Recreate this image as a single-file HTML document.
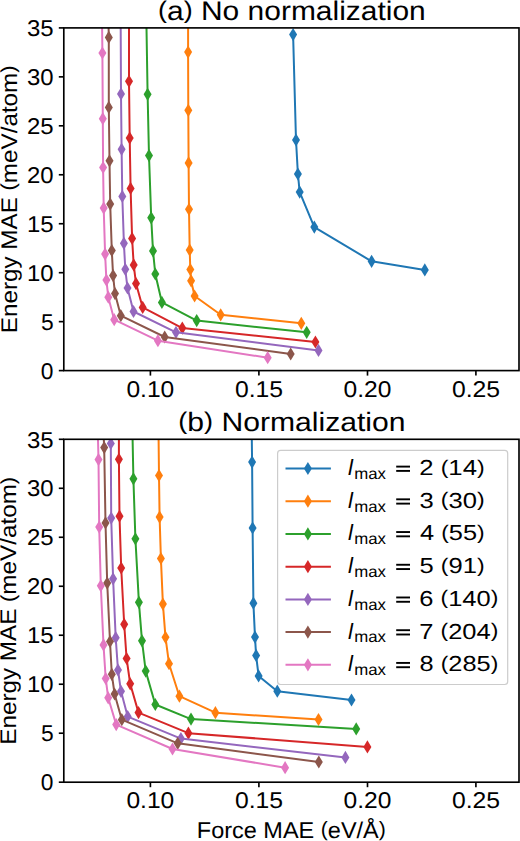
<!DOCTYPE html>
<html><head><meta charset="utf-8"><style>
html,body{margin:0;padding:0;background:#fff;width:520px;height:841px;overflow:hidden}
svg{display:block}
text{font-family:"Liberation Sans", sans-serif;fill:#000;text-rendering:geometricPrecision}
</style></head><body>
<svg width="520" height="841" viewBox="0 0 520 841">
<rect width="520" height="841" fill="#fff"/>
<defs><clipPath id="ca"><rect x="63.8" y="27.9" width="455.2" height="342.70000000000005"/></clipPath><clipPath id="cb"><rect x="63.8" y="439.3" width="455.2" height="342.90000000000003"/></clipPath></defs>
<g clip-path="url(#ca)">
<path d="M293.10 34.60L296.00 140.00L297.90 174.00L299.70 192.10L314.30 227.10L371.60 261.30L424.80 269.90" fill="none" stroke="#1f77b4" stroke-width="2.0" stroke-linejoin="round" stroke-linecap="butt"/>
<path d="M293.10 28.00L297.10 34.60L293.10 41.20L289.10 34.60Z" fill="#1f77b4"/>
<path d="M296.00 133.40L300.00 140.00L296.00 146.60L292.00 140.00Z" fill="#1f77b4"/>
<path d="M297.90 167.40L301.90 174.00L297.90 180.60L293.90 174.00Z" fill="#1f77b4"/>
<path d="M299.70 185.50L303.70 192.10L299.70 198.70L295.70 192.10Z" fill="#1f77b4"/>
<path d="M314.30 220.50L318.30 227.10L314.30 233.70L310.30 227.10Z" fill="#1f77b4"/>
<path d="M371.60 254.70L375.60 261.30L371.60 267.90L367.60 261.30Z" fill="#1f77b4"/>
<path d="M424.80 263.30L428.80 269.90L424.80 276.50L420.80 269.90Z" fill="#1f77b4"/>
<path d="M188.10 -2.10L188.10 52.10L188.30 110.30L188.60 162.90L189.00 209.30L189.70 250.00L190.30 269.50L191.10 280.80L194.60 296.00L220.70 314.80L301.30 323.30" fill="none" stroke="#ff7f0e" stroke-width="2.0" stroke-linejoin="round" stroke-linecap="butt"/>
<path d="M188.10 45.50L192.10 52.10L188.10 58.70L184.10 52.10Z" fill="#ff7f0e"/>
<path d="M188.30 103.70L192.30 110.30L188.30 116.90L184.30 110.30Z" fill="#ff7f0e"/>
<path d="M188.60 156.30L192.60 162.90L188.60 169.50L184.60 162.90Z" fill="#ff7f0e"/>
<path d="M189.00 202.70L193.00 209.30L189.00 215.90L185.00 209.30Z" fill="#ff7f0e"/>
<path d="M189.70 243.40L193.70 250.00L189.70 256.60L185.70 250.00Z" fill="#ff7f0e"/>
<path d="M190.30 262.90L194.30 269.50L190.30 276.10L186.30 269.50Z" fill="#ff7f0e"/>
<path d="M191.10 274.20L195.10 280.80L191.10 287.40L187.10 280.80Z" fill="#ff7f0e"/>
<path d="M194.60 289.40L198.60 296.00L194.60 302.60L190.60 296.00Z" fill="#ff7f0e"/>
<path d="M220.70 308.20L224.70 314.80L220.70 321.40L216.70 314.80Z" fill="#ff7f0e"/>
<path d="M301.30 316.70L305.30 323.30L301.30 329.90L297.30 323.30Z" fill="#ff7f0e"/>
<path d="M146.00 -2.10L147.60 94.30L149.00 155.60L151.20 217.80L153.00 250.90L155.30 274.00L161.90 302.40L196.70 320.60L306.70 332.30" fill="none" stroke="#2ca02c" stroke-width="2.0" stroke-linejoin="round" stroke-linecap="butt"/>
<path d="M147.60 87.70L151.60 94.30L147.60 100.90L143.60 94.30Z" fill="#2ca02c"/>
<path d="M149.00 149.00L153.00 155.60L149.00 162.20L145.00 155.60Z" fill="#2ca02c"/>
<path d="M151.20 211.20L155.20 217.80L151.20 224.40L147.20 217.80Z" fill="#2ca02c"/>
<path d="M153.00 244.30L157.00 250.90L153.00 257.50L149.00 250.90Z" fill="#2ca02c"/>
<path d="M155.30 267.40L159.30 274.00L155.30 280.60L151.30 274.00Z" fill="#2ca02c"/>
<path d="M161.90 295.80L165.90 302.40L161.90 309.00L157.90 302.40Z" fill="#2ca02c"/>
<path d="M196.70 314.00L200.70 320.60L196.70 327.20L192.70 320.60Z" fill="#2ca02c"/>
<path d="M306.70 325.70L310.70 332.30L306.70 338.90L302.70 332.30Z" fill="#2ca02c"/>
<path d="M129.00 -2.10L129.00 81.30L129.70 138.10L130.60 188.40L132.10 238.40L133.70 264.90L136.00 283.60L142.70 307.40L182.30 328.10L315.40 342.00" fill="none" stroke="#d62728" stroke-width="2.0" stroke-linejoin="round" stroke-linecap="butt"/>
<path d="M129.00 74.70L133.00 81.30L129.00 87.90L125.00 81.30Z" fill="#d62728"/>
<path d="M129.70 131.50L133.70 138.10L129.70 144.70L125.70 138.10Z" fill="#d62728"/>
<path d="M130.60 181.80L134.60 188.40L130.60 195.00L126.60 188.40Z" fill="#d62728"/>
<path d="M132.10 231.80L136.10 238.40L132.10 245.00L128.10 238.40Z" fill="#d62728"/>
<path d="M133.70 258.30L137.70 264.90L133.70 271.50L129.70 264.90Z" fill="#d62728"/>
<path d="M136.00 277.00L140.00 283.60L136.00 290.20L132.00 283.60Z" fill="#d62728"/>
<path d="M142.70 300.80L146.70 307.40L142.70 314.00L138.70 307.40Z" fill="#d62728"/>
<path d="M182.30 321.50L186.30 328.10L182.30 334.70L178.30 328.10Z" fill="#d62728"/>
<path d="M315.40 335.40L319.40 342.00L315.40 348.60L311.40 342.00Z" fill="#d62728"/>
<path d="M120.56 -2.10L121.00 93.90L121.60 149.30L122.30 196.40L123.90 243.30L125.30 269.30L127.50 288.00L133.50 311.50L176.00 332.30L318.50 350.40" fill="none" stroke="#9467bd" stroke-width="2.0" stroke-linejoin="round" stroke-linecap="butt"/>
<path d="M121.00 87.30L125.00 93.90L121.00 100.50L117.00 93.90Z" fill="#9467bd"/>
<path d="M121.60 142.70L125.60 149.30L121.60 155.90L117.60 149.30Z" fill="#9467bd"/>
<path d="M122.30 189.80L126.30 196.40L122.30 203.00L118.30 196.40Z" fill="#9467bd"/>
<path d="M123.90 236.70L127.90 243.30L123.90 249.90L119.90 243.30Z" fill="#9467bd"/>
<path d="M125.30 262.70L129.30 269.30L125.30 275.90L121.30 269.30Z" fill="#9467bd"/>
<path d="M127.50 281.40L131.50 288.00L127.50 294.60L123.50 288.00Z" fill="#9467bd"/>
<path d="M133.50 304.90L137.50 311.50L133.50 318.10L129.50 311.50Z" fill="#9467bd"/>
<path d="M176.00 325.70L180.00 332.30L176.00 338.90L172.00 332.30Z" fill="#9467bd"/>
<path d="M318.50 343.80L322.50 350.40L318.50 357.00L314.50 350.40Z" fill="#9467bd"/>
<path d="M107.97 -2.10L108.80 37.40L108.80 107.40L109.50 160.80L110.20 204.10L111.80 250.50L113.10 275.60L115.00 293.60L120.80 315.70L164.70 337.00L290.70 354.00" fill="none" stroke="#8c564b" stroke-width="2.0" stroke-linejoin="round" stroke-linecap="butt"/>
<path d="M108.80 30.80L112.80 37.40L108.80 44.00L104.80 37.40Z" fill="#8c564b"/>
<path d="M108.80 100.80L112.80 107.40L108.80 114.00L104.80 107.40Z" fill="#8c564b"/>
<path d="M109.50 154.20L113.50 160.80L109.50 167.40L105.50 160.80Z" fill="#8c564b"/>
<path d="M110.20 197.50L114.20 204.10L110.20 210.70L106.20 204.10Z" fill="#8c564b"/>
<path d="M111.80 243.90L115.80 250.50L111.80 257.10L107.80 250.50Z" fill="#8c564b"/>
<path d="M113.10 269.00L117.10 275.60L113.10 282.20L109.10 275.60Z" fill="#8c564b"/>
<path d="M115.00 287.00L119.00 293.60L115.00 300.20L111.00 293.60Z" fill="#8c564b"/>
<path d="M120.80 309.10L124.80 315.70L120.80 322.30L116.80 315.70Z" fill="#8c564b"/>
<path d="M164.70 330.40L168.70 337.00L164.70 343.60L160.70 337.00Z" fill="#8c564b"/>
<path d="M290.70 347.40L294.70 354.00L290.70 360.60L286.70 354.00Z" fill="#8c564b"/>
<path d="M101.74 -2.10L102.40 53.00L102.80 118.70L103.10 167.50L103.70 208.10L105.10 254.10L106.40 280.10L108.30 297.20L114.20 319.70L157.90 340.70L267.70 357.70" fill="none" stroke="#e377c2" stroke-width="2.0" stroke-linejoin="round" stroke-linecap="butt"/>
<path d="M102.40 46.40L106.40 53.00L102.40 59.60L98.40 53.00Z" fill="#e377c2"/>
<path d="M102.80 112.10L106.80 118.70L102.80 125.30L98.80 118.70Z" fill="#e377c2"/>
<path d="M103.10 160.90L107.10 167.50L103.10 174.10L99.10 167.50Z" fill="#e377c2"/>
<path d="M103.70 201.50L107.70 208.10L103.70 214.70L99.70 208.10Z" fill="#e377c2"/>
<path d="M105.10 247.50L109.10 254.10L105.10 260.70L101.10 254.10Z" fill="#e377c2"/>
<path d="M106.40 273.50L110.40 280.10L106.40 286.70L102.40 280.10Z" fill="#e377c2"/>
<path d="M108.30 290.60L112.30 297.20L108.30 303.80L104.30 297.20Z" fill="#e377c2"/>
<path d="M114.20 313.10L118.20 319.70L114.20 326.30L110.20 319.70Z" fill="#e377c2"/>
<path d="M157.90 334.10L161.90 340.70L157.90 347.30L153.90 340.70Z" fill="#e377c2"/>
<path d="M267.70 351.10L271.70 357.70L267.70 364.30L263.70 357.70Z" fill="#e377c2"/>
</g>
<g clip-path="url(#cb)">
<path d="M251.41 409.30L252.10 462.10L252.60 528.00L253.40 603.20L255.00 637.10L256.10 655.40L258.60 675.90L277.30 691.20L351.50 700.00" fill="none" stroke="#1f77b4" stroke-width="2.0" stroke-linejoin="round" stroke-linecap="butt"/>
<path d="M252.10 455.50L256.10 462.10L252.10 468.70L248.10 462.10Z" fill="#1f77b4"/>
<path d="M252.60 521.40L256.60 528.00L252.60 534.60L248.60 528.00Z" fill="#1f77b4"/>
<path d="M253.40 596.60L257.40 603.20L253.40 609.80L249.40 603.20Z" fill="#1f77b4"/>
<path d="M255.00 630.50L259.00 637.10L255.00 643.70L251.00 637.10Z" fill="#1f77b4"/>
<path d="M256.10 648.80L260.10 655.40L256.10 662.00L252.10 655.40Z" fill="#1f77b4"/>
<path d="M258.60 669.30L262.60 675.90L258.60 682.50L254.60 675.90Z" fill="#1f77b4"/>
<path d="M277.30 684.60L281.30 691.20L277.30 697.80L273.30 691.20Z" fill="#1f77b4"/>
<path d="M351.50 693.40L355.50 700.00L351.50 706.60L347.50 700.00Z" fill="#1f77b4"/>
<path d="M158.27 409.30L159.00 475.50L159.60 517.10L160.90 558.50L162.90 604.10L165.50 637.30L169.00 663.70L179.40 696.20L215.40 712.70L318.50 719.50" fill="none" stroke="#ff7f0e" stroke-width="2.0" stroke-linejoin="round" stroke-linecap="butt"/>
<path d="M159.00 468.90L163.00 475.50L159.00 482.10L155.00 475.50Z" fill="#ff7f0e"/>
<path d="M159.60 510.50L163.60 517.10L159.60 523.70L155.60 517.10Z" fill="#ff7f0e"/>
<path d="M160.90 551.90L164.90 558.50L160.90 565.10L156.90 558.50Z" fill="#ff7f0e"/>
<path d="M162.90 597.50L166.90 604.10L162.90 610.70L158.90 604.10Z" fill="#ff7f0e"/>
<path d="M165.50 630.70L169.50 637.30L165.50 643.90L161.50 637.30Z" fill="#ff7f0e"/>
<path d="M169.00 657.10L173.00 663.70L169.00 670.30L165.00 663.70Z" fill="#ff7f0e"/>
<path d="M179.40 689.60L183.40 696.20L179.40 702.80L175.40 696.20Z" fill="#ff7f0e"/>
<path d="M215.40 706.10L219.40 712.70L215.40 719.30L211.40 712.70Z" fill="#ff7f0e"/>
<path d="M318.50 712.90L322.50 719.50L318.50 726.10L314.50 719.50Z" fill="#ff7f0e"/>
<path d="M131.99 409.30L133.40 478.80L135.40 538.80L138.90 602.30L142.00 640.80L145.70 671.10L155.30 704.50L191.00 719.10L356.20 728.90" fill="none" stroke="#2ca02c" stroke-width="2.0" stroke-linejoin="round" stroke-linecap="butt"/>
<path d="M133.40 472.20L137.40 478.80L133.40 485.40L129.40 478.80Z" fill="#2ca02c"/>
<path d="M135.40 532.20L139.40 538.80L135.40 545.40L131.40 538.80Z" fill="#2ca02c"/>
<path d="M138.90 595.70L142.90 602.30L138.90 608.90L134.90 602.30Z" fill="#2ca02c"/>
<path d="M142.00 634.20L146.00 640.80L142.00 647.40L138.00 640.80Z" fill="#2ca02c"/>
<path d="M145.70 664.50L149.70 671.10L145.70 677.70L141.70 671.10Z" fill="#2ca02c"/>
<path d="M155.30 697.90L159.30 704.50L155.30 711.10L151.30 704.50Z" fill="#2ca02c"/>
<path d="M191.00 712.50L195.00 719.10L191.00 725.70L187.00 719.10Z" fill="#2ca02c"/>
<path d="M356.20 722.30L360.20 728.90L356.20 735.50L352.20 728.90Z" fill="#2ca02c"/>
<path d="M118.90 409.30L118.90 459.30L119.50 516.20L121.20 568.00L124.20 624.30L126.60 658.50L130.20 683.80L138.50 712.60L188.40 733.20L367.40 746.90" fill="none" stroke="#d62728" stroke-width="2.0" stroke-linejoin="round" stroke-linecap="butt"/>
<path d="M118.90 452.70L122.90 459.30L118.90 465.90L114.90 459.30Z" fill="#d62728"/>
<path d="M119.50 509.60L123.50 516.20L119.50 522.80L115.50 516.20Z" fill="#d62728"/>
<path d="M121.20 561.40L125.20 568.00L121.20 574.60L117.20 568.00Z" fill="#d62728"/>
<path d="M124.20 617.70L128.20 624.30L124.20 630.90L120.20 624.30Z" fill="#d62728"/>
<path d="M126.60 651.90L130.60 658.50L126.60 665.10L122.60 658.50Z" fill="#d62728"/>
<path d="M130.20 677.20L134.20 683.80L130.20 690.40L126.20 683.80Z" fill="#d62728"/>
<path d="M138.50 706.00L142.50 712.60L138.50 719.20L134.50 712.60Z" fill="#d62728"/>
<path d="M188.40 726.60L192.40 733.20L188.40 739.80L184.40 733.20Z" fill="#d62728"/>
<path d="M367.40 740.30L371.40 746.90L367.40 753.50L363.40 746.90Z" fill="#d62728"/>
<path d="M106.73 409.30L110.80 443.50L111.20 518.10L113.10 578.80L115.70 637.70L118.00 670.00L121.00 691.30L127.70 716.60L180.90 738.60L345.40 757.40" fill="none" stroke="#9467bd" stroke-width="2.0" stroke-linejoin="round" stroke-linecap="butt"/>
<path d="M110.80 436.90L114.80 443.50L110.80 450.10L106.80 443.50Z" fill="#9467bd"/>
<path d="M111.20 511.50L115.20 518.10L111.20 524.70L107.20 518.10Z" fill="#9467bd"/>
<path d="M113.10 572.20L117.10 578.80L113.10 585.40L109.10 578.80Z" fill="#9467bd"/>
<path d="M115.70 631.10L119.70 637.70L115.70 644.30L111.70 637.70Z" fill="#9467bd"/>
<path d="M118.00 663.40L122.00 670.00L118.00 676.60L114.00 670.00Z" fill="#9467bd"/>
<path d="M121.00 684.70L125.00 691.30L121.00 697.90L117.00 691.30Z" fill="#9467bd"/>
<path d="M127.70 710.00L131.70 716.60L127.70 723.20L123.70 716.60Z" fill="#9467bd"/>
<path d="M180.90 732.00L184.90 738.60L180.90 745.20L176.90 738.60Z" fill="#9467bd"/>
<path d="M345.40 750.80L349.40 757.40L345.40 764.00L341.40 757.40Z" fill="#9467bd"/>
<path d="M102.35 409.30L104.20 447.60L105.50 522.90L107.20 583.10L110.00 641.50L111.80 674.30L114.60 694.00L121.80 719.70L177.70 743.30L318.80 762.00" fill="none" stroke="#8c564b" stroke-width="2.0" stroke-linejoin="round" stroke-linecap="butt"/>
<path d="M104.20 441.00L108.20 447.60L104.20 454.20L100.20 447.60Z" fill="#8c564b"/>
<path d="M105.50 516.30L109.50 522.90L105.50 529.50L101.50 522.90Z" fill="#8c564b"/>
<path d="M107.20 576.50L111.20 583.10L107.20 589.70L103.20 583.10Z" fill="#8c564b"/>
<path d="M110.00 634.90L114.00 641.50L110.00 648.10L106.00 641.50Z" fill="#8c564b"/>
<path d="M111.80 667.70L115.80 674.30L111.80 680.90L107.80 674.30Z" fill="#8c564b"/>
<path d="M114.60 687.40L118.60 694.00L114.60 700.60L110.60 694.00Z" fill="#8c564b"/>
<path d="M121.80 713.10L125.80 719.70L121.80 726.30L117.80 719.70Z" fill="#8c564b"/>
<path d="M177.70 736.70L181.70 743.30L177.70 749.90L173.70 743.30Z" fill="#8c564b"/>
<path d="M318.80 755.40L322.80 762.00L318.80 768.60L314.80 762.00Z" fill="#8c564b"/>
<path d="M97.26 409.30L98.50 459.60L99.20 527.10L100.80 585.80L103.50 644.90L105.70 678.50L108.20 697.80L116.20 724.60L172.50 749.00L285.10 767.70" fill="none" stroke="#e377c2" stroke-width="2.0" stroke-linejoin="round" stroke-linecap="butt"/>
<path d="M98.50 453.00L102.50 459.60L98.50 466.20L94.50 459.60Z" fill="#e377c2"/>
<path d="M99.20 520.50L103.20 527.10L99.20 533.70L95.20 527.10Z" fill="#e377c2"/>
<path d="M100.80 579.20L104.80 585.80L100.80 592.40L96.80 585.80Z" fill="#e377c2"/>
<path d="M103.50 638.30L107.50 644.90L103.50 651.50L99.50 644.90Z" fill="#e377c2"/>
<path d="M105.70 671.90L109.70 678.50L105.70 685.10L101.70 678.50Z" fill="#e377c2"/>
<path d="M108.20 691.20L112.20 697.80L108.20 704.40L104.20 697.80Z" fill="#e377c2"/>
<path d="M116.20 718.00L120.20 724.60L116.20 731.20L112.20 724.60Z" fill="#e377c2"/>
<path d="M172.50 742.40L176.50 749.00L172.50 755.60L168.50 749.00Z" fill="#e377c2"/>
<path d="M285.10 761.10L289.10 767.70L285.10 774.30L281.10 767.70Z" fill="#e377c2"/>
</g>
<rect x="63.80" y="27.90" width="455.20" height="342.70" fill="none" stroke="#000" stroke-width="1.65" stroke-linejoin="miter"/>
<line x1="58.80" y1="370.60" x2="63.80" y2="370.60" stroke="#000" stroke-width="1.65"/>
<text transform="translate(40.74,378.80) scale(1.0,1)" font-size="22.8">0</text>
<line x1="58.80" y1="321.64" x2="63.80" y2="321.64" stroke="#000" stroke-width="1.65"/>
<text transform="translate(40.97,329.84) scale(1.0,1)" font-size="22.8">5</text>
<line x1="58.80" y1="272.69" x2="63.80" y2="272.69" stroke="#000" stroke-width="1.65"/>
<text transform="translate(26.98,280.89) scale(1.05,1)" font-size="22.8">10</text>
<line x1="58.80" y1="223.73" x2="63.80" y2="223.73" stroke="#000" stroke-width="1.65"/>
<text transform="translate(26.98,231.93) scale(1.05,1)" font-size="22.8">15</text>
<line x1="58.80" y1="174.77" x2="63.80" y2="174.77" stroke="#000" stroke-width="1.65"/>
<text transform="translate(26.98,182.97) scale(1.05,1)" font-size="22.8">20</text>
<line x1="58.80" y1="125.81" x2="63.80" y2="125.81" stroke="#000" stroke-width="1.65"/>
<text transform="translate(26.98,134.01) scale(1.05,1)" font-size="22.8">25</text>
<line x1="58.80" y1="76.86" x2="63.80" y2="76.86" stroke="#000" stroke-width="1.65"/>
<text transform="translate(26.98,85.06) scale(1.05,1)" font-size="22.8">30</text>
<line x1="58.80" y1="27.90" x2="63.80" y2="27.90" stroke="#000" stroke-width="1.65"/>
<text transform="translate(26.98,36.10) scale(1.05,1)" font-size="22.8">35</text>
<line x1="150.40" y1="370.60" x2="150.40" y2="375.60" stroke="#000" stroke-width="1.65"/>
<text transform="translate(126.42,396.60) scale(1.0789,1)" font-size="22.8">0.10</text>
<line x1="258.90" y1="370.60" x2="258.90" y2="375.60" stroke="#000" stroke-width="1.65"/>
<text transform="translate(234.91,396.60) scale(1.0847,1)" font-size="22.8">0.15</text>
<line x1="367.50" y1="370.60" x2="367.50" y2="375.60" stroke="#000" stroke-width="1.65"/>
<text transform="translate(343.52,396.60) scale(1.0789,1)" font-size="22.8">0.20</text>
<line x1="475.90" y1="370.60" x2="475.90" y2="375.60" stroke="#000" stroke-width="1.65"/>
<text transform="translate(451.91,396.60) scale(1.0847,1)" font-size="22.8">0.25</text>
<rect x="63.80" y="439.30" width="455.20" height="342.90" fill="none" stroke="#000" stroke-width="1.65" stroke-linejoin="miter"/>
<line x1="58.80" y1="782.20" x2="63.80" y2="782.20" stroke="#000" stroke-width="1.65"/>
<text transform="translate(40.74,790.40) scale(1.0,1)" font-size="22.8">0</text>
<line x1="58.80" y1="733.21" x2="63.80" y2="733.21" stroke="#000" stroke-width="1.65"/>
<text transform="translate(40.97,741.41) scale(1.0,1)" font-size="22.8">5</text>
<line x1="58.80" y1="684.23" x2="63.80" y2="684.23" stroke="#000" stroke-width="1.65"/>
<text transform="translate(26.98,692.43) scale(1.05,1)" font-size="22.8">10</text>
<line x1="58.80" y1="635.24" x2="63.80" y2="635.24" stroke="#000" stroke-width="1.65"/>
<text transform="translate(26.98,643.44) scale(1.05,1)" font-size="22.8">15</text>
<line x1="58.80" y1="586.26" x2="63.80" y2="586.26" stroke="#000" stroke-width="1.65"/>
<text transform="translate(26.98,594.46) scale(1.05,1)" font-size="22.8">20</text>
<line x1="58.80" y1="537.27" x2="63.80" y2="537.27" stroke="#000" stroke-width="1.65"/>
<text transform="translate(26.98,545.47) scale(1.05,1)" font-size="22.8">25</text>
<line x1="58.80" y1="488.29" x2="63.80" y2="488.29" stroke="#000" stroke-width="1.65"/>
<text transform="translate(26.98,496.49) scale(1.05,1)" font-size="22.8">30</text>
<line x1="58.80" y1="439.30" x2="63.80" y2="439.30" stroke="#000" stroke-width="1.65"/>
<text transform="translate(26.98,447.50) scale(1.05,1)" font-size="22.8">35</text>
<line x1="150.40" y1="782.20" x2="150.40" y2="787.20" stroke="#000" stroke-width="1.65"/>
<text transform="translate(126.42,808.20) scale(1.0789,1)" font-size="22.8">0.10</text>
<line x1="258.90" y1="782.20" x2="258.90" y2="787.20" stroke="#000" stroke-width="1.65"/>
<text transform="translate(234.91,808.20) scale(1.0847,1)" font-size="22.8">0.15</text>
<line x1="367.50" y1="782.20" x2="367.50" y2="787.20" stroke="#000" stroke-width="1.65"/>
<text transform="translate(343.52,808.20) scale(1.0789,1)" font-size="22.8">0.20</text>
<line x1="475.90" y1="782.20" x2="475.90" y2="787.20" stroke="#000" stroke-width="1.65"/>
<text transform="translate(451.91,808.20) scale(1.0847,1)" font-size="22.8">0.25</text>
<rect x="277.6" y="450.4" width="230.10" height="234.10" rx="3" ry="3" fill="#fff" fill-opacity="0.8" stroke="#cccccc" stroke-width="1.2"/>
<line x1="285.5" y1="468.50" x2="330.9" y2="468.50" stroke="#1f77b4" stroke-width="2.0"/>
<path d="M307.90 461.90L311.90 468.50L307.90 475.10L303.90 468.50Z" fill="#1f77b4"/>
<text x="348.0" y="474.90" font-size="22.2" font-style="italic">l</text>
<text transform="translate(354.2,478.80) scale(1.05,1)" font-size="16">max</text>
<rect x="396.2" y="465.65" width="13.8" height="1.9" fill="#000"/>
<rect x="396.2" y="469.95" width="13.8" height="1.9" fill="#000"/>
<text transform="translate(419.22,474.90) scale(1.1834,1)" font-size="21.71" font-style="normal" >2 <tspan font-size="90%" dy="-0.0711em">(</tspan><tspan dy="0.0640em">1</tspan>4<tspan font-size="90%" dy="-0.0711em">)</tspan></text>
<line x1="285.5" y1="501.22" x2="330.9" y2="501.22" stroke="#ff7f0e" stroke-width="2.0"/>
<path d="M307.90 494.62L311.90 501.22L307.90 507.82L303.90 501.22Z" fill="#ff7f0e"/>
<text x="348.0" y="507.62" font-size="22.2" font-style="italic">l</text>
<text transform="translate(354.2,511.52) scale(1.05,1)" font-size="16">max</text>
<rect x="396.2" y="498.37" width="13.8" height="1.9" fill="#000"/>
<rect x="396.2" y="502.67" width="13.8" height="1.9" fill="#000"/>
<text transform="translate(419.48,507.62) scale(1.1786,1)" font-size="21.71" font-style="normal" >3 <tspan font-size="90%" dy="-0.0711em">(</tspan><tspan dy="0.0640em">3</tspan>0<tspan font-size="90%" dy="-0.0711em">)</tspan></text>
<line x1="285.5" y1="533.94" x2="330.9" y2="533.94" stroke="#2ca02c" stroke-width="2.0"/>
<path d="M307.90 527.34L311.90 533.94L307.90 540.54L303.90 533.94Z" fill="#2ca02c"/>
<text x="348.0" y="540.34" font-size="22.2" font-style="italic">l</text>
<text transform="translate(354.2,544.24) scale(1.05,1)" font-size="16">max</text>
<rect x="396.2" y="531.09" width="13.8" height="1.9" fill="#000"/>
<rect x="396.2" y="535.39" width="13.8" height="1.9" fill="#000"/>
<text transform="translate(419.99,540.34) scale(1.1690,1)" font-size="21.71" font-style="normal" >4 <tspan font-size="90%" dy="-0.0711em">(</tspan><tspan dy="0.0640em">5</tspan>5<tspan font-size="90%" dy="-0.0711em">)</tspan></text>
<line x1="285.5" y1="566.66" x2="330.9" y2="566.66" stroke="#d62728" stroke-width="2.0"/>
<path d="M307.90 560.06L311.90 566.66L307.90 573.26L303.90 566.66Z" fill="#d62728"/>
<text x="348.0" y="573.06" font-size="22.2" font-style="italic">l</text>
<text transform="translate(354.2,576.96) scale(1.05,1)" font-size="16">max</text>
<rect x="396.2" y="563.81" width="13.8" height="1.9" fill="#000"/>
<rect x="396.2" y="568.11" width="13.8" height="1.9" fill="#000"/>
<text transform="translate(419.48,573.06) scale(1.1786,1)" font-size="21.71" font-style="normal" >5 <tspan font-size="90%" dy="-0.0711em">(</tspan><tspan dy="0.0640em">9</tspan>1<tspan font-size="90%" dy="-0.0711em">)</tspan></text>
<line x1="285.5" y1="599.38" x2="330.9" y2="599.38" stroke="#9467bd" stroke-width="2.0"/>
<path d="M307.90 592.78L311.90 599.38L307.90 605.98L303.90 599.38Z" fill="#9467bd"/>
<text x="348.0" y="605.78" font-size="22.2" font-style="italic">l</text>
<text transform="translate(354.2,609.68) scale(1.05,1)" font-size="16">max</text>
<rect x="396.2" y="596.53" width="13.8" height="1.9" fill="#000"/>
<rect x="396.2" y="600.83" width="13.8" height="1.9" fill="#000"/>
<text transform="translate(419.23,605.78) scale(1.1743,1)" font-size="21.71" font-style="normal" >6 <tspan font-size="90%" dy="-0.0711em">(</tspan><tspan dy="0.0640em">1</tspan>40<tspan font-size="90%" dy="-0.0711em">)</tspan></text>
<line x1="285.5" y1="632.10" x2="330.9" y2="632.10" stroke="#8c564b" stroke-width="2.0"/>
<path d="M307.90 625.50L311.90 632.10L307.90 638.70L303.90 632.10Z" fill="#8c564b"/>
<text x="348.0" y="638.50" font-size="22.2" font-style="italic">l</text>
<text transform="translate(354.2,642.40) scale(1.05,1)" font-size="16">max</text>
<rect x="396.2" y="629.25" width="13.8" height="1.9" fill="#000"/>
<rect x="396.2" y="633.55" width="13.8" height="1.9" fill="#000"/>
<text transform="translate(419.23,638.50) scale(1.1743,1)" font-size="21.71" font-style="normal" >7 <tspan font-size="90%" dy="-0.0711em">(</tspan><tspan dy="0.0640em">2</tspan>04<tspan font-size="90%" dy="-0.0711em">)</tspan></text>
<line x1="285.5" y1="664.82" x2="330.9" y2="664.82" stroke="#e377c2" stroke-width="2.0"/>
<path d="M307.90 658.22L311.90 664.82L307.90 671.42L303.90 664.82Z" fill="#e377c2"/>
<text x="348.0" y="671.22" font-size="22.2" font-style="italic">l</text>
<text transform="translate(354.2,675.12) scale(1.05,1)" font-size="16">max</text>
<rect x="396.2" y="661.97" width="13.8" height="1.9" fill="#000"/>
<rect x="396.2" y="666.27" width="13.8" height="1.9" fill="#000"/>
<text transform="translate(419.48,671.22) scale(1.1704,1)" font-size="21.71" font-style="normal" >8 <tspan font-size="90%" dy="-0.0711em">(</tspan><tspan dy="0.0640em">2</tspan>85<tspan font-size="90%" dy="-0.0711em">)</tspan></text>
<text transform="translate(158.00,19.60) scale(1.1116,1)" font-size="26.96" font-style="normal" ><tspan font-size="90%" dy="-0.0711em">(</tspan><tspan dy="0.0640em">a</tspan><tspan font-size="90%" dy="-0.0711em">)</tspan><tspan dy="0.0640em"> </tspan>No normalization</text>
<text transform="translate(178.29,430.70) scale(1.1295,1)" font-size="26.67" font-style="normal" ><tspan font-size="90%" dy="-0.0711em">(</tspan><tspan dy="0.0640em">b</tspan><tspan font-size="90%" dy="-0.0711em">)</tspan><tspan dy="0.0640em"> </tspan>Normalization</text>
<text transform="translate(16.50,333.14) rotate(-90) scale(1.0715,1)" font-size="22.61" font-style="normal">Energy MAE <tspan font-size="90%" dy="-0.0711em">(</tspan><tspan dy="0.0640em">m</tspan>eV/atom<tspan font-size="90%" dy="-0.0711em">)</tspan></text>
<text transform="translate(16.40,744.74) rotate(-90) scale(1.0723,1)" font-size="22.61" font-style="normal">Energy MAE <tspan font-size="90%" dy="-0.0711em">(</tspan><tspan dy="0.0640em">m</tspan>eV/atom<tspan font-size="90%" dy="-0.0711em">)</tspan></text>
<text transform="translate(196.82,837.90) scale(1.0258,1)" font-size="22.90" font-style="normal" >Force MAE <tspan font-size="90%" dy="-0.0711em">(</tspan><tspan dy="0.0640em">e</tspan>V/Å<tspan font-size="90%" dy="-0.0711em">)</tspan></text>
</svg></body></html>
